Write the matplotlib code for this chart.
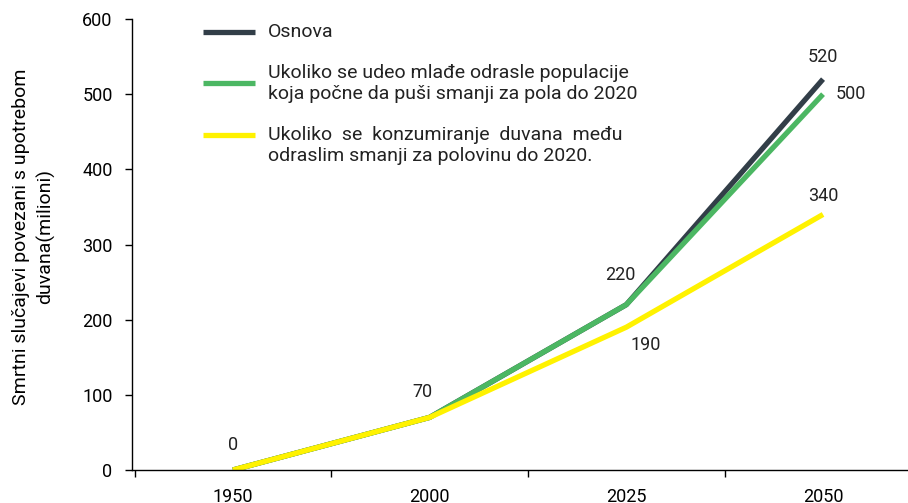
import matplotlib
matplotlib.use("Agg")
import matplotlib.pyplot as plt
import numpy as np

plt.rcParams["font.family"] = ["Roboto", "DejaVu Sans"]

YEARS = ["1950", "2000", "2025", "2050"]
BASE = [0, 70, 220, 520]
YOUTH_HALF = [0, 70, 220, 500]
ADULT_HALF = [0, 70, 190, 340]

LABELS = [
    "Osnova",
    "Ukoliko se udeo mlađe odrasle populacije\nkoja počne da puši smanji za pola do 2020",
    "Ukoliko  se  konzumiranje  duvana  među\nodraslim smanji za polovinu do 2020.",
]
COLORS = ["#323e48", "#4cb763", "#fff200"]

fig = plt.figure(figsize=(9.08, 5.03), dpi=100)
ax = fig.add_axes([0.1454, 0.0656, 0.8546, 0.8966])

x = np.arange(len(YEARS))
for vals, col in zip([BASE, YOUTH_HALF, ADULT_HALF], COLORS):
    ax.plot(x, vals, color=col, lw=3.8, solid_capstyle="butt")

ax.set_yticks(range(0, 601, 100))
ax.set_xticks(x)
ax.set_xticklabels(YEARS)
# category boundaries as minor ticks (set before xlim, set_xticks can widen limits)
ax.set_xticks([-0.5] + list(x[:-1] + 0.5), minor=True)
ax.set_xlim(-0.513, 3.432)
ax.set_ylim(0, 600)
ax.tick_params(axis="x", which="major", length=0, pad=13, labelsize=13)
ax.tick_params(axis="x", which="minor", length=5, width=1, direction="out")
ax.tick_params(axis="y", length=5, width=1, labelsize=13, pad=9)
for s in ["top", "right"]:
    ax.spines[s].set_visible(False)
ax.spines["left"].set_linewidth(1)
ax.spines["bottom"].set_linewidth(1)

ax.set_ylabel("Smrtni slučajevi povezani s upotrebom\nduvana(milioni)", fontsize=14,
              linespacing=1.4)
ax.yaxis.set_label_coords(-0.099, 0.518)

# value annotations
notes = [
    (0, BASE[0], "0", (0, 18)),
    (1, BASE[1], "70", (-5, 18)),
    (2, BASE[2], "220", (-4.5, 21)),
    (2, ADULT_HALF[2], "190", (14, -13)),
    (3, BASE[3], "520", (0, 16)),
    (3, YOUTH_HALF[3], "500", (20, 0)),
    (3, ADULT_HALF[3], "340", (0, 13)),
]
for xi, yi, txt, off in notes:
    ax.annotate(txt, (xi, yi), xytext=off, textcoords="offset points",
                ha="center", va="center", fontsize=13, color="#222222")

# legend drawn by hand: key line + text block
key_y = [0.971, 0.858, 0.743]
text_y = [0.971, 0.857, 0.7195]
for col, lab, ky, ty in zip(COLORS, LABELS, key_y, text_y):
    ax.plot([0.0915, 0.1585], [ky, ky], color=col, lw=3.8, solid_capstyle="butt",
            transform=ax.transAxes, clip_on=False)
    ax.text(0.1753, ty, lab, transform=ax.transAxes, fontsize=14, va="center",
            ha="left", color="#222222", linespacing=1.2)

fig.savefig("out.png", dpi=100)
